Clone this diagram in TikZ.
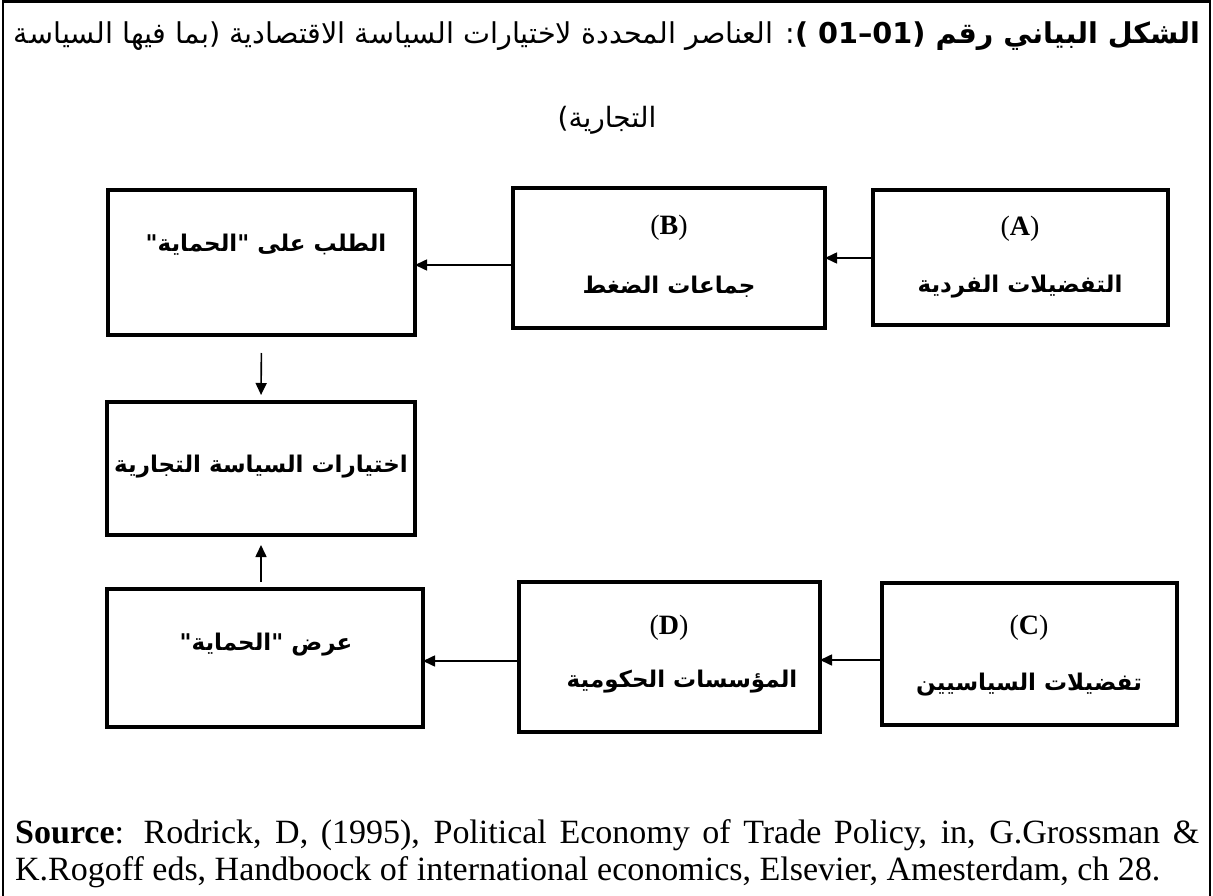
\documentclass[tikz,border=0pt]{standalone}
\usepackage{fontspec}
\setmainfont{Liberation Serif}
\newfontfamily\arabicfont[Script=Arabic]{DejaVu Sans}
\TeXXeTstate=1
\usetikzlibrary{arrows.meta}
\begin{document}
\begin{tikzpicture}[x=1pt,y=-1pt,
  box/.style={draw, line width=4pt, inner sep=0pt, outer sep=0pt},
  conn/.style={line width=1.6pt, -{Triangle[length=12pt,width=11pt]}},
  artext/.style={inner sep=0pt, font=\arabicfont\bfseries\fontsize{23}{27}\selectfont},
  tag/.style={inner sep=0pt, font=\fontsize{28}{32}\selectfont},
  srcline/.style={inner sep=0pt, anchor=base west, font=\fontsize{34}{38}\selectfont}
]
\useasboundingbox (0,0) rectangle (1213,896);
% outer frame, open at the bottom
\draw[line width=2.5pt] (3,896) -- (3,1.5) -- (1210,1.5) -- (1210,896);

% title
\node[inner sep=0pt] (title1) at (607,36) {\resizebox{1186pt}{!}{\arabicfont\fontsize{28}{32}\selectfont\beginR{\bfseries الشكل البياني رقم (\beginL 01–01\endL{} )}: العناصر المحددة لاختيارات السياسة الاقتصادية (بما فيها السياسة\endR}};
\node[inner sep=0pt, font=\arabicfont\fontsize{28}{32}\selectfont] (title2) at (607,120) {\beginR التجارية)\endR};

% boxes
\node[box, minimum width=295pt, minimum height=135pt] (A) at (1020.5,257.5) {};
\node[box, minimum width=312pt, minimum height=140pt] (B) at (669,258) {};
\node[box, minimum width=307pt, minimum height=145pt] (dem) at (261.5,262.5) {};
\node[box, minimum width=308pt, minimum height=133pt] (tc) at (261,468.5) {};
\node[box, minimum width=316pt, minimum height=138pt] (sup) at (265,658) {};
\node[box, minimum width=301pt, minimum height=150pt] (D) at (669.5,657) {};
\node[box, minimum width=295pt, minimum height=142pt] (C) at (1029.5,654) {};

% box texts
\node[tag] (tagA) at (1020,229) {(\textbf{A})};
\node[artext] (txtA) at (1020,287) {\beginR التفضيلات الفردية\endR};
\node[tag] (tagB) at (669,228) {(\textbf{B})};
\node[artext] (txtB) at (669,287) {\beginR جماعات الضغط\endR};
\node[artext] (txtdem) at (266,245) {\beginR الطلب على "الحماية"\endR};
\node[artext] (txttc) at (261,467) {\beginR اختيارات السياسة التجارية\endR};
\node[artext] (txtsup) at (266,645) {\beginR عرض "الحماية"\endR};
\node[tag] (tagD) at (669,628) {(\textbf{D})};
\node[artext] (txtD) at (682,682) {\beginR المؤسسات الحكومية\endR};
\node[tag] (tagC) at (1029,628) {(\textbf{C})};
\node[artext] (txtC) at (1029,685) {\beginR تفضيلات السياسيين\endR};

% connectors
\draw[conn] (A.west |- 0,258) -- (B.east |- 0,258);
\draw[conn] (B.west |- 0,265) -- (dem.east |- 0,265);
\draw[conn, shorten <=18pt, shorten >=7pt] (dem.south) -- (tc.north);
\draw[conn] (C.west |- 0,660) -- (D.east |- 0,660);
\draw[conn] (D.west |- 0,661) -- (sup.east |- 0,661);
\draw[conn, shorten <=7pt, shorten >=10pt] (sup.north -| tc.south) -- (tc.south);

% source reference
\node[srcline] (src1) at (15,843)
  {\makebox[1184pt][s]{\textbf{Source}: Rodrick, D, (1995), Political Economy of Trade Policy, in, G.Grossman \&}};
\node[srcline] (src2) at (15,880)
  {K.Rogoff eds, Handboock of international economics, Elsevier, Amesterdam, ch 28.};
\end{tikzpicture}
\end{document}
